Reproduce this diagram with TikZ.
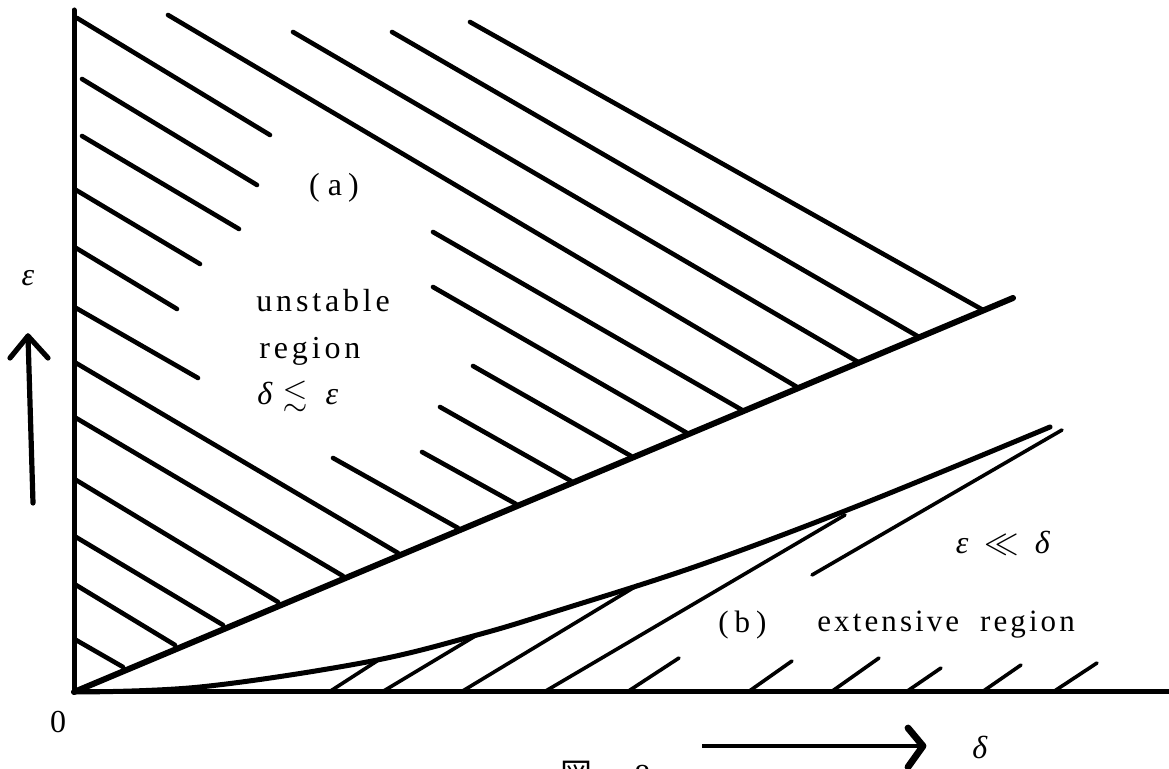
\documentclass[tikz,border=0pt]{standalone}
\usepackage{amssymb}
\usepackage{fontspec}
\setmainfont{Liberation Serif}
\newfontfamily\cjk{Noto Sans CJK JP}
\newcommand{\mydelta}{\textit{δ}}
\newcommand{\myeps}{\textit{ε}}
\begin{document}
\begin{tikzpicture}[x=0.5pt,y=-0.5pt,
  hatch/.style={line width=2.3pt,line cap=round},
  thinhatch/.style={line width=1.8pt,line cap=round},
  axisline/.style={line width=2.5pt,line cap=round,line join=miter},
  bound/.style={line width=3pt,line cap=round},
  lbl/.style={inner sep=0pt,font=\fontsize{16}{19}\selectfont},
  lblb/.style={inner sep=0pt,font=\fontsize{15.5}{18}\selectfont},
  sml/.style={inner sep=0pt,font=\fontsize{16}{19}\selectfont}]
\useasboundingbox (0,0) rectangle (1169,769);
% key points
\coordinate (O) at (74,692);
\coordinate (Ytop) at (74,10);
\coordinate (Xend) at (1169,692);
\coordinate (T) at (1013,298);
\coordinate (L) at (1050,427);
% axes
\draw[axisline] (Ytop) -- (O) -- (Xend);
% boundary of region (a)
\draw[bound] (O) -- (T);
% boundary of region (b)
\draw[line width=2.5pt,line cap=round] plot[smooth,tension=0.6] coordinates
  {(O) (200,687) (367,662) (477,635) (560,610) (700,565) (860,505) (L)};
% hatching of region (a)
\foreach \p/\q/\r/\s in {77/18/270/135, 82/79/257/185, 82/136/239/229,
  76/190/200/264, 76/248/177/309, 76/308/198/378, 76/363/398/553,
  76/418/343/576, 76/480/278/602, 76/537/223/625, 76/585/175/645,
  76/640/123/667, 168/15/797/387, 293/32/858/362, 392/32/919/337,
  470/22/983/310, 433/232/742/410, 433/287/687/433, 473/366/631/456,
  440/407/571/481, 422/452/516/504, 333/458/458/528}
  \draw[hatch] (\p,\q) -- (\r,\s);
% hatching of region (b)
\foreach \p/\q/\r/\s in {329/692/377/661, 382/692/477/635, 461/692/638/585,
  544/692/845/515, 812/575/1062/430, 627/692/679/658, 748/692/792/661,
  831/692/879/658, 906/692/941/668, 982/692/1021/665, 1053/692/1097/663}
  \draw[thinhatch] (\p,\q) -- (\r,\s);
% labels
\node[lbl] (la) at (334,188) {(\hspace{4pt}a\hspace{3pt})};
\node[lbl,anchor=base west] (u1) at (256,312) {\addfontfeature{LetterSpace=12}unstable};
\node[lbl,anchor=base west] (u2) at (259,359) {\addfontfeature{LetterSpace=12}region};
\node[lbl,anchor=base west] (u3) at (257,405) {\mydelta\hspace{5pt}$\lesssim$\hspace{9pt}\myeps};
\node[sml] (eps) at (28,278) {\myeps};
\node[sml] (zero) at (58,722) {0};
\node[sml] (ll) at (1003,543) {\myeps\hspace{8pt}$\ll$\hspace{8pt}\mydelta};
\node[lblb,anchor=base west] (lb) at (718,633) {(\hspace{3pt}b\hspace{3pt})};
\node[lblb,anchor=base west] (ext) at (817,632) {\addfontfeature{LetterSpace=10}extensive\hspace{5pt} region};
\node[sml] (dl) at (980,747) {\mydelta};
\node[sml,anchor=north west] (cap) at (560,761) {{\cjk 図}\hspace{21pt}8};
% epsilon arrow
\coordinate (es) at (33,503);
\coordinate (ee) at (28,336);
\coordinate (ewl) at (10,358);
\coordinate (ewr) at (48,358);
\draw[line width=2.6pt,line cap=round] (es) -- (ee);
\draw[line width=2.6pt,line cap=round,line join=round] (ewl) -- (ee) -- (ewr);
% delta arrow
\coordinate (ds) at (702,746);
\coordinate (de) at (923,746);
\coordinate (dwt) at (908,728);
\coordinate (dwb) at (908,767);
\draw[line width=2.2pt] (ds) -- (de);
\draw[line width=3.4pt,line cap=round,line join=round] (dwt) -- (de) -- (dwb);
\end{tikzpicture}
\end{document}
